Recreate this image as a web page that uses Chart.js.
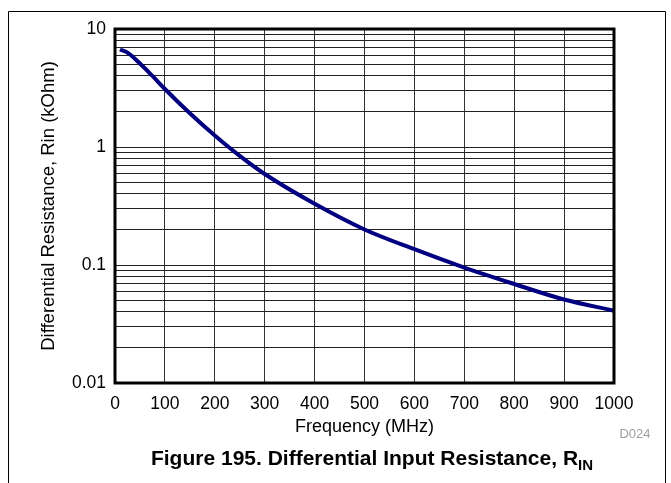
<!DOCTYPE html>
<html>
<head>
<meta charset="utf-8">
<script src="https://cdn.jsdelivr.net/npm/chart.js@4/dist/chart.umd.min.js"></script>
<style>
  html, body { margin: 0; padding: 0; background: #fff; }
  canvas { display: block; }
</style>
</head>
<body>
<canvas id="rinChart" width="671" height="483"></canvas>
<script>
// values: frequency (MHz) vs differential input resistance (kOhm)
const freqMHz = [10, 25, 50, 75, 100, 150, 200, 250, 300, 400, 500, 600, 700, 800, 900, 1000];
const rinKOhm = [6.7, 6.3, 5.1, 4.0, 3.1, 1.93, 1.25, 0.84, 0.59, 0.33, 0.2, 0.136, 0.095, 0.069, 0.051, 0.041];

const xTickValues = [0, 100, 200, 300, 400, 500, 600, 700, 800, 900, 1000];
const yDecades = [0.01, 0.1, 1, 10];
const yTickLabels = ['0.01', '0.1', '1', '10'];

const captionText = 'Figure 195. Differential Input Resistance, R';
const captionSub = 'IN';
const figId = 'D024';

const FONT = '"Liberation Sans", Arial, Helvetica, sans-serif';

// grid lines at 1..9 of every decade, like the printed log paper
function logGridValues() {
    const vals = [];
    for (let i = 0; i < yDecades.length - 1; i++) {
        for (let m = 1; m <= 9; m++) vals.push(Number((yDecades[i] * m).toPrecision(3)));
    }
    vals.push(yDecades[yDecades.length - 1]);
    return vals;
}

const decorPlugin = {
    id: 'decor',
    afterDraw(chart) {
        const c = chart.ctx;
        const a = chart.chartArea;
        c.save();
        // outer figure frame (open at the bottom)
        c.strokeStyle = '#000';
        c.lineWidth = 1;
        c.beginPath();
        c.moveTo(8.5, 483);
        c.lineTo(8.5, 11.5);
        c.lineTo(665.5, 11.5);
        c.lineTo(665.5, 483);
        c.stroke();
        // heavy plot border
        c.lineWidth = 3;
        c.strokeRect(a.left, a.top, a.right - a.left, a.bottom - a.top);
        // figure id
        c.fillStyle = '#a0a0a0';
        c.font = '13px ' + FONT;
        c.textAlign = 'center';
        c.textBaseline = 'middle';
        c.fillText(figId, 635, 434);
        // caption with subscript
        c.fillStyle = '#000';
        c.font = 'bold 21px ' + FONT;
        const w1 = c.measureText(captionText).width;
        c.font = 'bold 15px ' + FONT;
        const w2 = c.measureText(captionSub).width;
        const x0 = 372 - (w1 + w2) / 2;
        c.textAlign = 'left';
        c.font = 'bold 21px ' + FONT;
        c.fillText(captionText, x0, 459);
        c.font = 'bold 15px ' + FONT;
        c.fillText(captionSub, x0 + w1, 466);
        c.restore();
    }
};

new Chart(document.getElementById('rinChart'), {
    type: 'line',
    data: {
        datasets: [{
            data: freqMHz.map((f, i) => ({ x: f, y: rinKOhm[i] })),
            borderColor: '#000080',
            borderWidth: 4,
            pointRadius: 0,
            fill: false,
            cubicInterpolationMode: 'monotone'
        }]
    },
    options: {
        responsive: false,
        animation: false,
        devicePixelRatio: 1,
        layout: { padding: { top: 29, right: 57, bottom: 0, left: 0 } },
        plugins: { legend: { display: false }, tooltip: { enabled: false } },
        scales: {
            x: {
                type: 'linear',
                min: 0,
                max: 1000,
                afterBuildTicks: (s) => { s.ticks = xTickValues.map(v => ({ value: v })); },
                afterFit: (s) => { s.height = 100; },
                ticks: {
                    color: '#000',
                    font: { family: FONT, size: 17.5 },
                    padding: 11,
                    autoSkip: false,
                    maxRotation: 0,
                    callback: (v) => String(v)
                },
                grid: { color: '#333', lineWidth: 1, drawTicks: false },
                border: { display: false },
                title: { display: true, text: 'Frequency (MHz)', color: '#000', font: { family: FONT, size: 18, lineHeight: 1.2 }, padding: { bottom: 45 } }
            },
            y: {
                type: 'logarithmic',
                min: 0.01,
                max: 10,
                afterBuildTicks: (s) => { s.ticks = logGridValues().map(v => ({ value: v })); },
                afterFit: (s) => { s.width = 115; },
                ticks: {
                    color: '#000',
                    font: { family: FONT, size: 17.5 },
                    padding: 9,
                    autoSkip: false,
                    callback: (v) => {
                        const i = yDecades.findIndex(d => Math.abs(d - v) < d * 1e-6);
                        return i >= 0 ? yTickLabels[i] : '';
                    }
                },
                grid: { color: '#222', lineWidth: 1, drawTicks: false },
                border: { display: false },
                title: { display: true, text: 'Differential Resistance, Rin (kOhm)', color: '#000', font: { family: FONT, size: 18.5, lineHeight: 1.2 }, padding: { top: 38 } }
            }
        }
    },
    plugins: [decorPlugin]
});
</script>
</body>
</html>
